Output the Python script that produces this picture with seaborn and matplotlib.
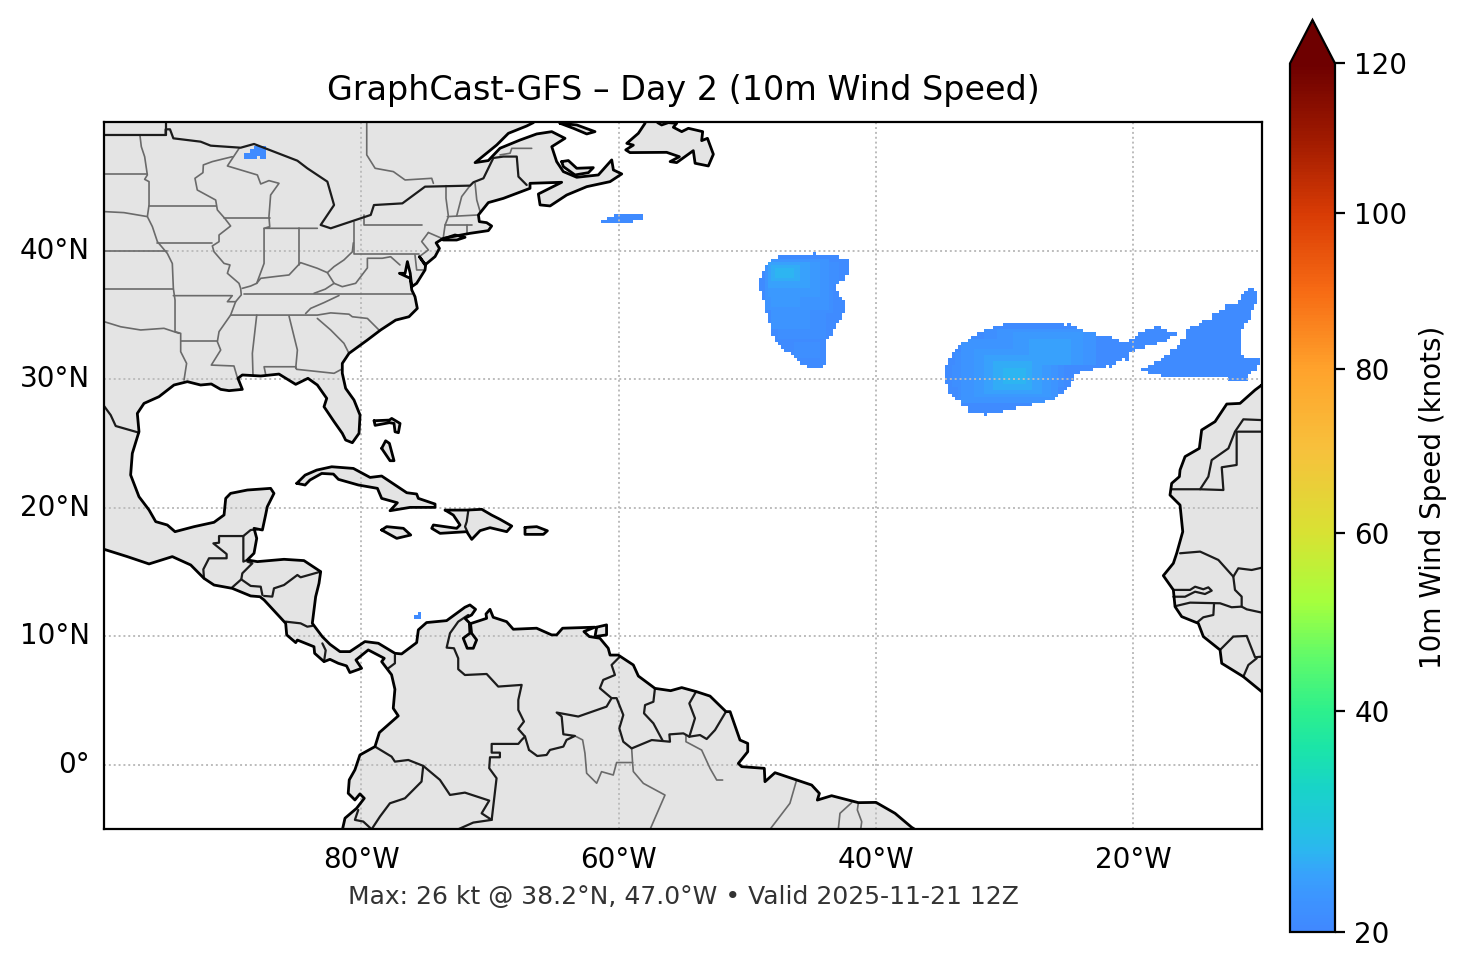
import numpy as np
import matplotlib
matplotlib.use('Agg')
import matplotlib.pyplot as plt
from matplotlib.colors import LinearSegmentedColormap, PowerNorm
from matplotlib.transforms import Affine2D
import seaborn as sns

# wind grid, quarter degree
grid_lons = np.arange(-100, -9.99, 0.25)
grid_lats = np.arange(50, -5.01, -0.25)

# colorbar
cbar_ticks = [20, 40, 60, 80, 100, 120]
cbar_speeds = [20, 22, 24, 26, 28, 32, 36, 40, 46, 52, 60, 70, 80, 90, 100, 110, 120]
cbar_colors = ['#4088ff', '#3d94ff', '#38a2fc', '#2cb6f0', '#23c2e2', '#18d4c8', '#1be5a8', '#2ef08c', '#62fb68',
               '#a6ff3d', '#d8e233', '#f7c13c', '#ffa32c', '#f76b14', '#d93c05', '#a01a00', '#6e0000']

lon_ticks = [-80, -60, -40, -20]
lon_labels = ['80°W', '60°W', '40°W', '20°W']
lat_ticks = [40, 30, 20, 10, 0]
lat_labels = ['40°N', '30°N', '20°N', '10°N', '0°']

# wind patches: (north, south, west, east) in degrees
mid_atlantic_patch = [
    (39.875, 39.625, -44.875, -44.625), (39.625, 39.375, -47.625, -42.875), (39.375, 39.125, -48.125, -42.125),
    (39.125, 38.875, -48.375, -42.125), (38.875, 38.375, -48.625, -42.125), (38.375, 38.125, -48.875, -42.125),
    (38.125, 37.875, -48.875, -42.375), (37.875, 37.625, -49.125, -42.375), (37.625, 37.375, -49.125, -42.875),
    (37.375, 36.875, -49.125, -43.125), (36.875, 36.375, -48.875, -42.875), (36.375, 36.125, -48.875, -42.625),
    (36.125, 35.125, -48.625, -42.375), (35.125, 34.625, -48.375, -42.625), (34.625, 34.375, -48.375, -42.875),
    (34.375, 33.875, -48.125, -43.125), (33.875, 33.375, -48.125, -43.375), (33.375, 33.125, -47.875, -43.625),
    (33.125, 32.875, -47.875, -43.875), (32.875, 32.625, -47.625, -43.875), (32.625, 32.375, -47.375, -43.875),
    (32.375, 32.125, -47.125, -43.875), (32.125, 31.875, -46.625, -43.875), (31.875, 31.625, -46.375, -43.875),
    (31.625, 31.375, -46.125, -43.875), (31.375, 31.125, -45.875, -43.875), (31.125, 30.875, -45.375, -44.125),
]
azores_patch = [
    (34.375, 34.125, -30.125, -25.375), (34.375, 34.125, -25.125, -24.875), (34.125, 33.875, -30.875, -24.375),
    (33.875, 33.625, -31.625, -23.875), (33.625, 33.375, -32.125, -22.875), (33.375, 33.125, -32.625, -21.625),
    (33.125, 32.875, -32.875, -21.125), (33.125, 32.875, -20.375, -17.375), (34.125, 33.875, -18.375, -17.875),
    (33.875, 33.625, -19.125, -17.375), (33.625, 33.375, -19.625, -16.625), (33.375, 33.125, -19.875, -17.125),
    (32.875, 32.625, -33.375, -18.125), (32.625, 32.375, -33.625, -19.125), (32.375, 32.125, -33.875, -19.875),
    (32.125, 31.875, -34.125, -20.375), (31.875, 31.625, -34.125, -20.375), (31.625, 31.375, -34.375, -20.875),
    (31.625, 31.375, -20.625, -20.375), (31.375, 31.125, -34.375, -21.375), (31.125, 30.875, -34.625, -22.125),
    (31.125, 30.875, -21.875, -21.625), (30.875, 30.625, -34.625, -23.125), (30.625, 30.375, -34.625, -24.125),
    (30.375, 29.875, -34.625, -24.625), (29.875, 29.625, -34.625, -24.875), (29.625, 29.375, -34.375, -24.875),
    (29.375, 29.125, -34.375, -25.125), (29.125, 28.875, -34.375, -25.375), (28.875, 28.625, -34.125, -25.875),
    (28.625, 28.375, -33.875, -26.125), (28.375, 28.125, -33.375, -26.875), (28.125, 27.875, -33.375, -27.875),
    (27.875, 27.625, -32.875, -29.125), (27.625, 27.375, -32.875, -30.125), (27.375, 27.125, -31.625, -31.375),
]
canary_patch = [
    (37.125, 36.875, -11.125, -10.625), (36.875, 36.625, -11.375, -10.375), (36.625, 36.125, -11.625, -10.375),
    (36.125, 35.875, -11.875, -10.375), (35.875, 35.375, -12.875, -10.625), (35.375, 35.125, -13.375, -10.875),
    (35.125, 34.625, -13.875, -10.875), (34.625, 34.375, -14.625, -11.125), (34.375, 34.125, -14.875, -11.375),
    (34.125, 33.875, -15.625, -11.375), (33.875, 33.125, -15.875, -11.625), (33.125, 32.625, -16.375, -11.625),
    (32.625, 32.375, -16.625, -11.625), (32.375, 31.875, -17.125, -11.625), (31.875, 31.625, -17.625, -11.375),
    (31.625, 31.375, -17.875, -10.125), (31.375, 31.125, -18.375, -10.125), (31.125, 30.875, -18.875, -10.375),
    (30.875, 30.625, -19.375, -10.375), (30.625, 30.375, -18.875, -10.875), (30.375, 30.125, -17.875, -11.125),
    (30.125, 29.875, -12.625, -11.125),
]
small_patches = [
    (48.125, 47.875, -88.375, -87.375), (47.875, 47.625, -88.625, -87.375), (47.625, 47.375, -89.125, -87.375),
    (47.375, 47.125, -89.125, -88.125), (47.375, 47.125, -87.875, -87.375),
    (42.875, 42.625, -60.375, -58.125), (42.625, 42.375, -60.875, -58.125), (42.375, 42.125, -61.375, -58.875),
    (11.875, 11.625, -75.625, -75.375), (11.625, 11.375, -75.875, -75.375),
]
# stronger wind inside the patches: (north, south, west, east, speed)
wind_bands = [
    (39.125, 37.375, -48.125, -42.875, 21), (37.375, 35.125, -48.125, -43.375, 21),
    (35.125, 33.0, -47.625, -43.875, 21), (33.0, 31.625, -46.375, -44.375, 21),
    (39.375, 35.375, -48.625, -43.625, 22), (35.375, 33.875, -48.125, -45.0, 22),
    (39.125, 36.375, -48.375, -44.375, 23), (36.375, 35.625, -48.125, -45.875, 23),
    (39.125, 37.125, -48.375, -45.125, 24),
    (38.875, 37.625, -48.125, -45.875, 25),
    (38.625, 37.875, -47.875, -46.375, 26),
    (33.875, 33.125, -31.625, -25.375, 21), (33.125, 32.125, -33.0, -22.875, 21),
    (32.125, 31.125, -33.875, -23.875, 21), (31.125, 29.375, -34.125, -25.375, 21),
    (29.375, 28.375, -33.625, -27.0, 21),
    (33.125, 28.125, -33.375, -25.875, 22), (33.875, 31.0, -30.625, -22.875, 22),
    (32.375, 28.625, -32.375, -26.375, 23), (33.625, 31.0, -29.375, -23.875, 23),
    (31.875, 28.875, -31.625, -27.125, 24), (33.125, 31.0, -28.125, -24.875, 24),
    (31.375, 29.125, -30.875, -27.875, 25),
    (30.875, 29.625, -30.125, -28.375, 26),
]

# land outlines, (lon, lat)
americas = [
    (-66.63, 50.7), (-66.63, 49.95), (-67.15, 49.69), (-68.57, 49.12), (-69.48, 48.21), (-71.16, 46.84), (-70.13, 47.0),
    (-69.22, 47.96), (-67.66, 48.6), (-66.37, 49.07), (-65.2, 49.25), (-64.17, 48.73), (-65.2, 48.08), (-64.82, 46.92),
    (-64.3, 46.14), (-63.26, 45.7), (-61.58, 45.88), (-60.54, 47.05), (-60.41, 46.27), (-59.76, 45.96), (-60.67, 45.36),
    (-62.48, 44.97), (-64.04, 44.32), (-65.33, 43.47), (-66.11, 43.55), (-66.24, 44.4), (-64.43, 45.31), (-66.89, 45.23),
    (-66.89, 44.84), (-68.96, 44.06), (-70.13, 43.73), (-70.9, 42.77), (-70.83, 42.25), (-70.26, 42.17), (-69.87, 41.91),
    (-70.13, 41.55), (-71.55, 41.34), (-73.62, 40.95), (-74.19, 40.6), (-73.93, 40.17), (-74.27, 39.53), (-75.05, 38.88),
    (-75.49, 39.53), (-75.0, 38.88), (-75.05, 38.49), (-75.7, 37.45), (-76.08, 37.19), (-76.2, 38.23), (-76.42, 39.14),
    (-76.6, 38.23), (-77.04, 38.23), (-76.2, 37.84), (-76.08, 36.93), (-75.83, 36.41), (-75.65, 35.5), (-76.3, 34.85),
    (-77.33, 34.59), (-78.5, 33.82), (-79.53, 33.04), (-80.96, 32.0), (-81.48, 31.22), (-81.48, 30.45), (-81.22, 29.28),
    (-80.57, 28.37), (-80.1, 27.2), (-80.18, 25.78), (-80.7, 25.05), (-81.22, 25.26), (-81.48, 25.78), (-82.12, 26.69),
    (-82.9, 27.85), (-82.69, 28.5), (-83.42, 29.54), (-84.15, 30.06), (-85.1, 29.59), (-86.4, 30.39), (-87.82, 30.24),
    (-89.25, 30.32), (-89.59, 30.06), (-89.25, 29.2), (-90.28, 29.1), (-90.93, 29.2), (-91.66, 29.62), (-92.49, 29.54),
    (-93.52, 29.8), (-94.56, 29.54), (-95.73, 28.63), (-96.89, 28.11), (-97.41, 27.33), (-97.28, 25.91), (-97.8, 24.22),
    (-97.93, 22.54), (-97.28, 20.85), (-96.5, 19.82), (-95.98, 18.91), (-95.08, 18.65), (-94.48, 18.13), (-93.0, 18.52),
    (-91.45, 18.86), (-90.67, 19.43), (-90.54, 20.72), (-90.16, 21.11), (-88.86, 21.37), (-87.05, 21.5), (-86.79, 21.11),
    (-87.31, 20.07), (-87.44, 19.43), (-87.69, 18.26), (-88.34, 18.39), (-88.13, 17.61), (-88.34, 16.45), (-88.86, 15.93),
    (-88.08, 15.8), (-86.01, 15.98), (-84.46, 15.88), (-83.16, 15.02), (-83.29, 14.11), (-83.55, 13.07), (-83.63, 12.43),
    (-83.81, 11.0), (-83.03, 9.96), (-82.44, 9.37), (-81.66, 8.8), (-80.89, 8.8), (-79.72, 9.58), (-78.68, 9.45),
    (-77.39, 8.67), (-76.87, 8.62), (-75.7, 9.5), (-75.57, 10.49), (-74.93, 11.06), (-73.37, 11.21), (-71.95, 12.25),
    (-71.56, 12.43), (-71.12, 12.09), (-71.43, 11.65), (-71.95, 11.39), (-71.51, 10.95), (-71.43, 10.23), (-71.04, 9.71),
    (-71.3, 9.06), (-71.77, 9.06), (-72.08, 9.84), (-71.56, 10.23), (-71.6, 10.95), (-70.26, 11.39), (-70.31, 11.73),
    (-70.0, 12.09), (-69.75, 11.47), (-68.71, 11.13), (-68.19, 10.54), (-66.38, 10.62), (-65.21, 10.1), (-64.82, 10.1),
    (-64.36, 10.62), (-61.84, 10.7), (-62.7, 10.36), (-62.28, 9.97), (-61.46, 9.84), (-60.81, 9.06), (-60.67, 8.53),
    (-60.03, 8.53), (-58.86, 7.76), (-58.47, 6.9), (-57.18, 5.94), (-55.96, 5.76), (-55.1, 6.0), (-53.94, 5.68),
    (-52.9, 5.34), (-51.66, 4.13), (-51.34, 4.13), (-50.57, 1.92), (-49.97, 1.66), (-49.97, 1.01), (-50.7, 0.1),
    (-50.44, -0.15), (-48.68, -0.28), (-48.63, -1.32), (-47.85, -0.62), (-45.0, -1.58), (-44.4, -2.23), (-44.56, -2.75),
    (-43.45, -2.41), (-41.37, -2.95), (-40.0, -2.93), (-38.52, -3.78), (-37.23, -4.87), (-36.7, -5.2), (-36.7, -7.0),
    (-81.46, -7.0), (-81.46, -5.0), (-81.27, -4.16), (-80.37, -3.39), (-79.77, -2.61), (-80.11, -2.27), (-80.5, -2.74),
    (-81.02, -2.22), (-80.94, -1.18), (-80.5, -0.4), (-80.11, 0.76), (-78.94, 1.41), (-78.6, 2.5), (-77.13, 3.8),
    (-77.52, 4.39), (-77.39, 5.87), (-77.65, 7.0), (-78.42, 8.02), (-78.22, 8.28), (-79.46, 8.93), (-80.42, 8.15),
    (-79.98, 7.5), (-80.89, 7.17), (-81.15, 7.69), (-81.79, 7.89), (-82.44, 8.2), (-82.9, 8.02), (-83.63, 8.67),
    (-83.68, 9.18), (-84.97, 9.7), (-85.1, 9.5), (-85.8, 10.1), (-85.88, 11.0), (-87.56, 12.82), (-87.88, 13.07),
    (-88.6, 13.13), (-90.03, 13.72), (-91.45, 13.98), (-92.23, 14.5), (-93.26, 15.54), (-94.69, 16.19), (-96.5, 15.62),
    (-98.19, 16.19), (-100.0, 16.76), (-101.0, 16.76), (-101.0, 50.7),
]
africa = [
    (-10.02, 29.54), (-10.54, 29.15), (-11.71, 28.11), (-12.74, 28.06), (-13.65, 26.69), (-14.69, 26.04), (-14.87, 24.61),
    (-15.98, 23.97), (-16.37, 22.93), (-16.42, 22.41), (-17.02, 21.89), (-17.15, 20.98), (-16.37, 20.2), (-16.16, 18.13),
    (-16.63, 16.45), (-16.89, 15.67), (-17.67, 14.71), (-16.89, 13.6), (-16.76, 12.3), (-16.24, 11.52), (-14.95, 11.0),
    (-14.56, 9.97), (-13.26, 8.93), (-13.13, 7.89), (-11.45, 6.85), (-10.02, 5.68), (-9.0, 5.68), (-9.0, 30.0),
]
newfoundland = [
    (-57.95, 50.7), (-57.95, 49.9), (-58.47, 49.12), (-59.37, 48.34), (-58.86, 48.2), (-59.45, 47.83), (-59.12, 47.62),
    (-56.27, 47.64), (-55.28, 47.3), (-56.0, 46.92), (-55.49, 46.84), (-54.2, 47.77), (-54.06, 46.79), (-53.03, 46.58),
    (-52.64, 47.49), (-53.1, 48.73), (-53.55, 48.55), (-53.47, 49.25), (-54.58, 49.51), (-55.1, 49.25), (-55.75, 49.59),
    (-55.49, 49.9), (-56.14, 49.95), (-56.66, 49.77), (-56.97, 49.95), (-56.97, 50.7),
]
anticosti = [(-64.56, 49.9), (-63.26, 49.77), (-61.84, 49.25), (-62.48, 49.07), (-63.52, 49.51)]
pei = [(-64.43, 46.92), (-63.91, 47.0), (-63.26, 46.4), (-61.97, 46.45), (-62.35, 46.06), (-63.39, 45.88), (-64.3, 46.53)]
long_island = [(-73.75, 40.87), (-72.72, 41.21), (-71.94, 41.03), (-72.59, 40.82), (-73.62, 40.82)]
cuba = [
    (-85.02, 21.89), (-84.37, 22.53), (-83.47, 22.92), (-82.3, 23.18), (-80.62, 23.05), (-79.32, 22.35), (-78.42, 22.46),
    (-76.47, 21.16), (-75.7, 21.06), (-75.57, 20.72), (-74.27, 20.28), (-74.27, 20.02), (-76.21, 20.02), (-77.77, 19.76),
    (-77.2, 20.38), (-78.42, 20.72), (-78.75, 21.5), (-80.23, 21.76), (-81.78, 22.2), (-82.17, 22.61), (-83.08, 22.66),
    (-83.99, 22.15), (-84.37, 21.76),
]
jamaica = [(-78.42, 18.26), (-78.03, 18.52), (-76.73, 18.39), (-76.16, 17.87), (-77.25, 17.61)]
hispaniola = [
    (-73.49, 19.81), (-71.81, 19.81), (-70.64, 19.87), (-69.87, 19.42), (-69.22, 19.09), (-68.31, 18.57), (-68.7, 18.13),
    (-70.0, 18.44), (-70.77, 18.21), (-71.42, 17.53), (-71.81, 18.13), (-73.88, 18.0), (-74.53, 18.39), (-74.4, 18.65),
    (-72.59, 18.39), (-72.33, 18.65), (-72.85, 19.42),
]
puerto_rico = [(-67.28, 18.46), (-66.37, 18.52), (-65.54, 18.2), (-65.85, 17.92), (-67.28, 17.92)]
andros = [(-78.42, 24.61), (-78.11, 25.2), (-77.82, 25.0), (-77.46, 23.65), (-77.77, 23.65)]
abaco = [(-79.01, 26.76), (-77.82, 26.81), (-77.64, 26.94), (-76.99, 26.55), (-77.12, 25.83), (-77.38, 25.9),
         (-77.46, 26.55), (-77.82, 26.61), (-78.93, 26.4)]
trinidad = [(-61.71, 10.7), (-60.94, 10.88), (-60.94, 10.1), (-61.84, 9.97)]

# country borders
country_borders = [
    [(-100, 48.99), (-95.21, 48.99), (-95.21, 49.43), (-94.87, 49.43), (-94.61, 48.73), (-92.49, 48.47), (-91.71, 48.16),
     (-89.38, 48.0), (-88.34, 48.29), (-84.97, 46.99), (-84.2, 46.4), (-82.64, 45.36), (-82.12, 43.54), (-83.16, 41.99),
     (-82.38, 41.73), (-79.27, 42.77), (-79.02, 43.54), (-76.81, 43.67), (-75.05, 44.97), (-71.55, 45.05), (-71.29, 45.31),
     (-70.51, 45.62), (-69.74, 47.2), (-68.96, 47.31), (-67.92, 47.31), (-67.79, 45.75), (-67.15, 45.1)],
    [(-95.21, 50.7), (-95.21, 48.99)],
    [(-100, 27.91), (-99.48, 27.2), (-99.09, 26.35), (-97.28, 25.83)],
    [(-92.23, 14.5), (-92.28, 15.2), (-91.84, 16.06), (-90.47, 16.06), (-90.47, 16.39), (-91.5, 17.22), (-91.06, 17.27),
     (-91.06, 17.79), (-89.17, 17.79), (-89.17, 15.8), (-88.86, 15.93)],
    [(-89.17, 17.79), (-88.6, 18.26), (-88.08, 18.31)],
    [(-88.86, 15.8), (-88.47, 15.67), (-89.25, 14.89), (-89.33, 14.42), (-90.03, 13.8)],
    [(-89.33, 14.42), (-88.6, 13.91), (-87.82, 13.85), (-87.69, 13.2)],
    [(-87.56, 13.13), (-86.92, 13.08), (-86.79, 13.72), (-86.01, 13.98), (-84.97, 14.76), (-84.72, 14.58), (-83.16, 15.02)],
    [(-85.88, 11.13), (-84.72, 11.0), (-84.2, 10.74), (-83.81, 10.8)],
    [(-83.03, 9.44), (-82.77, 8.9), (-82.9, 8.02)],
    [(-77.39, 8.54), (-77.39, 7.89), (-77.91, 7.5)],
    [(-71.69, 11.65), (-72.47, 11.13), (-73.11, 10.23), (-73.37, 9.11), (-72.8, 9.06), (-72.47, 8.28), (-72.47, 7.43),
     (-71.95, 6.98), (-70.26, 7.06), (-69.36, 6.08), (-67.54, 6.21), (-67.8, 5.04), (-67.8, 4.26), (-67.36, 3.36),
     (-67.8, 2.78), (-67.28, 2.19), (-66.97, 1.15)],
    [(-67.28, 2.19), (-67.54, 1.93), (-67.8, 1.62), (-69.87, 1.62), (-69.87, 0.94), (-69.23, 0.94), (-69.23, 0.58),
     (-70.0, 0.58), (-70.06, -0.27), (-69.49, -1.05), (-69.87, -4.29)],
    [(-66.97, 1.15), (-66.33, 0.68), (-65.6, 0.76), (-65.34, 1.15), (-64.3, 1.41), (-64.05, 1.93), (-63.4, 2.24),
     (-64.3, 2.37), (-64.43, 3.75), (-64.82, 4.06), (-63.14, 3.75), (-60.94, 4.52), (-60.55, 5.18), (-60.16, 5.18),
     (-59.64, 3.87), (-59.95, 2.83), (-59.64, 1.79), (-58.99, 1.27), (-57.43, 1.92), (-56.01, 1.79), (-56.06, 2.36),
     (-54.97, 2.44), (-54.51, 2.18), (-53.68, 2.31), (-53.16, 2.0), (-52.51, 2.7), (-51.66, 4.13)],
    [(-59.95, 8.36), (-60.55, 7.76), (-60.29, 6.98), (-61.2, 6.6), (-61.46, 5.95), (-60.55, 5.18)],
    [(-57.18, 5.94), (-57.3, 4.9), (-57.95, 4.64), (-58.03, 4.0), (-57.3, 3.22), (-56.58, 1.87)],
    [(-53.99, 5.68), (-54.51, 4.77), (-54.07, 3.61), (-54.51, 2.18)],
    [(-78.94, 1.41), (-77.65, 0.63), (-77.39, 0.24), (-76.35, 0.37), (-75.19, -0.09), (-75.32, -1.31), (-76.61, -2.61),
     (-77.78, -3.0), (-78.55, -4.03), (-79.2, -5.02)],
    [(-79.2, -5.02), (-79.85, -4.42), (-80.5, -4.29), (-80.24, -3.52)],
    [(-75.19, -0.09), (-73.89, -1.18), (-73.11, -2.35), (-71.95, -2.17), (-70.06, -2.79), (-70.65, -3.78), (-69.87, -4.29),
     (-71.3, -4.5), (-72.47, -5.02)],
    [(-71.68, 19.81), (-71.81, 18.91), (-71.94, 18.52), (-71.76, 18.13)],
    [(-17.02, 21.43), (-14.81, 21.43), (-13.0, 21.37), (-13.13, 23.14), (-11.97, 23.32), (-11.97, 25.91), (-10.02, 25.91)],
    [(-14.81, 21.43), (-14.17, 22.41), (-13.91, 23.7), (-12.61, 24.61), (-12.1, 25.91), (-11.45, 26.87), (-10.0, 26.81)],
    [(-16.37, 16.45), (-14.81, 16.58), (-13.39, 15.93), (-12.23, 14.63), (-11.84, 15.28), (-10.8, 15.15), (-10.0, 15.33)],
    [(-12.23, 14.63), (-12.1, 13.6), (-11.58, 13.08), (-11.58, 12.3)],
    [(-16.89, 13.6), (-15.59, 13.6), (-15.2, 13.85), (-14.56, 13.65), (-14.17, 13.8), (-13.91, 13.54), (-14.43, 13.28),
     (-15.2, 13.46), (-15.98, 13.07), (-16.89, 13.07)],
    [(-16.68, 12.35), (-15.59, 12.61), (-13.26, 12.56), (-12.36, 12.25), (-11.58, 12.3), (-11.19, 12.09), (-10.0, 11.83)],
    [(-13.73, 12.5), (-13.78, 11.65), (-14.56, 11.47), (-15.07, 11.05)],
    [(-13.26, 8.93), (-12.23, 9.97), (-11.19, 10.02), (-10.54, 8.36), (-10.0, 8.41)],
    [(-11.45, 6.85), (-11.06, 7.76), (-10.41, 8.28)],
]

# state and province lines
state_lines = [
    [(-97.2, 48.91), (-97.1, 48.08), (-96.84, 47.3), (-96.63, 45.88), (-96.84, 45.54), (-96.5, 45.36), (-96.5, 43.54),
     (-96.63, 42.64)],
    [(-100, 45.96), (-96.63, 45.96)],
    [(-100, 43.03), (-98.45, 42.95), (-97.8, 42.84), (-96.63, 42.64), (-96.24, 41.86), (-95.85, 40.69), (-95.08, 39.78),
     (-94.69, 38.99), (-94.61, 37.06), (-94.48, 36.15), (-94.48, 33.69), (-94.04, 33.56), (-94.04, 32.13), (-93.58, 31.22),
     (-93.78, 29.93)],
    [(-100, 40.0), (-95.08, 40.0)],
    [(-100, 37.0), (-94.61, 37.0)],
    [(-95.85, 40.6), (-91.58, 40.6)],
    [(-96.5, 43.49), (-91.32, 43.49)],
    [(-90.03, 47.3), (-91.58, 46.92), (-92.28, 46.66), (-92.31, 46.06), (-92.93, 45.62), (-92.75, 44.71), (-91.32, 43.93),
     (-91.19, 43.16), (-90.62, 42.51), (-90.16, 41.91), (-91.06, 41.21), (-91.06, 40.69), (-91.58, 40.36), (-91.45, 39.91),
     (-90.67, 39.0), (-90.21, 38.88), (-90.41, 38.23), (-89.51, 37.45), (-89.38, 37.06), (-89.33, 36.55), (-89.77, 36.02),
     (-90.16, 34.98), (-91.06, 33.69), (-91.19, 32.91), (-90.93, 32.26), (-91.66, 31.09), (-89.9, 31.02), (-89.64, 30.13)],
    [(-87.56, 41.73), (-87.56, 39.0), (-88.13, 37.45), (-88.6, 37.24), (-89.25, 37.06)],
    [(-90.67, 42.51), (-87.12, 42.51)],
    [(-89.5, 47.95), (-90.41, 46.58), (-88.08, 45.88), (-87.82, 45.18), (-87.18, 45.44), (-86.4, 45.23), (-87.05, 44.32),
     (-87.18, 42.64), (-87.12, 41.86), (-87.56, 41.73), (-83.42, 41.73)],
    [(-84.84, 41.73), (-84.84, 38.88)],
    [(-80.62, 40.6), (-80.7, 39.9), (-81.35, 39.27), (-82.12, 38.75), (-82.64, 38.28), (-83.42, 38.62), (-84.72, 39.06),
     (-85.62, 38.1), (-86.5, 38.0), (-87.82, 37.84), (-88.13, 37.45)],
    [(-80.57, 42.25), (-80.57, 39.71), (-75.52, 39.71)],
    [(-79.79, 42.77), (-79.79, 41.99), (-75.26, 41.99)],
    [(-82.64, 38.28), (-82.12, 37.45), (-81.48, 37.19), (-80.44, 37.45), (-79.53, 38.65), (-79.53, 39.4), (-78.37, 39.4),
     (-77.72, 39.52), (-77.0, 38.88)],
    [(-83.68, 36.67), (-82.8, 37.0), (-82.12, 37.45)],
    [(-89.12, 36.6), (-76.04, 36.6)],
    [(-81.74, 36.5), (-82.9, 35.95), (-83.94, 35.5), (-84.33, 35.1)],
    [(-90.16, 34.98), (-83.42, 34.98), (-82.38, 35.15), (-80.96, 35.05), (-80.7, 34.85), (-79.53, 34.72), (-78.63, 33.82)],
    [(-88.13, 34.98), (-88.47, 32.0), (-88.42, 30.3)],
    [(-85.62, 34.9), (-84.97, 32.26), (-85.1, 30.84)],
    [(-87.44, 30.39), (-87.56, 30.96), (-85.1, 30.96), (-85.03, 30.76), (-82.12, 30.45), (-81.55, 30.76)],
    [(-83.42, 34.72), (-82.38, 33.82), (-81.35, 32.78), (-80.96, 32.0)],
    [(-94.04, 33.0), (-91.19, 33.0)],
    [(-100, 34.47), (-98.7, 34.07), (-97.15, 33.82), (-95.34, 33.95), (-94.17, 33.56)],
    [(-94.61, 36.49), (-90.03, 36.49), (-90.41, 36.02), (-89.77, 36.02)],
    [(-73.42, 45.05), (-73.42, 44.07), (-73.23, 42.64), (-73.49, 41.99), (-73.62, 41.08)],
    [(-71.55, 45.05), (-72.2, 44.2), (-72.59, 42.69)],
    [(-71.16, 45.23), (-71.03, 43.94), (-70.77, 43.03)],
    [(-73.31, 42.64), (-70.9, 42.77)],
    [(-73.49, 41.99), (-71.42, 41.99)],
    [(-71.81, 41.99), (-71.81, 41.34)],
    [(-74.79, 41.4), (-73.75, 40.95)],
    [(-74.79, 41.4), (-75.31, 40.7), (-74.79, 40.05), (-75.49, 39.53)],
    [(-75.83, 39.66), (-75.7, 38.49), (-75.05, 38.49)],
    [(-79.58, 50.7), (-79.58, 47.44), (-78.93, 46.4), (-77.51, 46.14), (-76.6, 45.49), (-74.53, 45.62), (-74.4, 45.23)],
    [(-69.22, 47.44), (-68.44, 47.57), (-68.31, 47.95), (-66.76, 47.95)],
    [(-63.4, 2.24), (-62.8, 1.93), (-62.62, 0.89), (-62.49, -0.66), (-61.71, -1.44), (-61.33, -0.54), (-60.42, -0.8),
     (-60.16, 0.17), (-58.92, 0.17)],
    [(-58.99, 1.27), (-58.92, 0.17), (-58.86, -0.53), (-58.08, -1.45), (-56.4, -2.36), (-57.56, -5.03)],
    [(-54.77, 2.31), (-54.77, 1.79), (-53.55, 1.14), (-52.9, -0.28), (-52.38, -1.19), (-51.92, -1.19)],
    [(-46.17, -1.19), (-46.69, -3.0), (-48.24, -5.03)],
    [(-41.89, -2.95), (-42.8, -3.78), (-42.93, -5.03)],
    [(-41.37, -2.95), (-41.45, -3.52), (-41.11, -4.43), (-41.19, -5.03)],
]

land_shapes = [americas, africa, newfoundland, anticosti, pei, long_island, cuba, jamaica, hispaniola,
               puerto_rico, andros, abaco, trinidad]

# fill the wind grid
wind = np.full((len(grid_lats), len(grid_lons)), np.nan)
lon_grid, lat_grid = np.meshgrid(grid_lons, grid_lats)
for north, south, west, east in mid_atlantic_patch + azores_patch + canary_patch + small_patches:
    wind[(lat_grid < north) & (lat_grid > south) & (lon_grid > west) & (lon_grid < east)] = 20.5
for north, south, west, east, speed in wind_bands:
    box = (lat_grid < north) & (lat_grid > south) & (lon_grid > west) & (lon_grid < east)
    wind[box & ~np.isnan(wind)] = speed

sns.set_style('white', {'text.color': 'black', 'xtick.color': 'black', 'ytick.color': 'black',
                        'axes.labelcolor': 'black', 'axes.edgecolor': 'black'})
plt.rcParams['font.family'] = ['DejaVu Sans']

norm = PowerNorm(gamma=0.85, vmin=20, vmax=120)
stops = [float(norm(s)) for s in cbar_speeds]
stops[0], stops[-1] = 0.0, 1.0
wind_cmap = LinearSegmentedColormap.from_list('wind', list(zip(stops, cbar_colors)), N=256)
wind_cmap.set_over('#6e0000')

W, H = 1466, 969
fig = plt.figure(figsize=(W / 200, H / 200), dpi=200)
ax = fig.add_axes([104 / W, 1 - 829 / H, (1262 - 104) / W, (829 - 122) / H])
# the extend arrow is drawn inside this box
cax = fig.add_axes([1290 / W, 1 - 932 / H, (1335 - 1290) / W, (932 - 20) / H])

sns.heatmap(wind, ax=ax, cbar_ax=cax, cmap=wind_cmap, norm=norm, xticklabels=False, yticklabels=False,
            cbar_kws={'extend': 'max', 'ticks': cbar_ticks, 'label': '10m Wind Speed (knots)'})
ax.set_xlim(0.5, 360.5)
ax.set_ylim(220.5, 0.5)

# lon/lat to heatmap cell coordinates
geo = Affine2D().translate(100.125, -50.125).scale(4, -4) + ax.transData

for shape in land_shapes:
    xs, ys = zip(*shape)
    ax.fill(xs, ys, facecolor='#e4e4e4', edgecolor='none', transform=geo, zorder=0.5)
    ax.plot(xs + xs[:1], ys + ys[:1], color='black', lw=1.0, transform=geo, zorder=4, solid_joinstyle='round')
for line in state_lines:
    xs, ys = zip(*line)
    ax.plot(xs, ys, color='#6a6a6a', lw=0.6, transform=geo, zorder=2.5)
for line in country_borders:
    xs, ys = zip(*line)
    ax.plot(xs, ys, color='#1c1c1c', lw=0.8, transform=geo, zorder=3)

for lon in lon_ticks:
    ax.plot([lon, lon], [-5, 50], color='#bcbcbc', lw=0.7, ls=(0, (1, 1.5)), transform=geo, zorder=2)
for lat in lat_ticks:
    ax.plot([-100, -10], [lat, lat], color='#bcbcbc', lw=0.7, ls=(0, (1, 1.5)), transform=geo, zorder=2)

ax.set_xticks([(lon + 100.125) * 4 for lon in lon_ticks])
ax.set_xticklabels(lon_labels, fontsize=10, rotation=0)
ax.set_yticks([(50.125 - lat) * 4 for lat in lat_ticks])
ax.set_yticklabels(lat_labels, fontsize=10, rotation=0, va='center')
ax.tick_params(axis='x', length=0, pad=6)
ax.tick_params(axis='y', length=0, pad=5)
for spine in ax.spines.values():
    spine.set_visible(True)
    spine.set_linewidth(0.8)
    spine.set_color('black')
    spine.set_zorder(6)
ax.set_title('GraphCast-GFS – Day 2 (10m Wind Speed)', fontsize=12, pad=8, color='black')

cbar = ax.collections[0].colorbar
cbar.outline.set_linewidth(0.8)
cbar.outline.set_edgecolor('black')
cbar.ax.tick_params(labelsize=10, length=3.5, width=0.8, color='black', right=True)
cbar.ax.yaxis.label.set_size(10)

fig.text(683 / W, 1 - 897 / H, 'Max: 26 kt @ 38.2°N, 47.0°W • Valid 2025-11-21 12Z', ha='center', va='center',
         fontsize=9, color='#333333')

fig.savefig('out.png', dpi=200)
